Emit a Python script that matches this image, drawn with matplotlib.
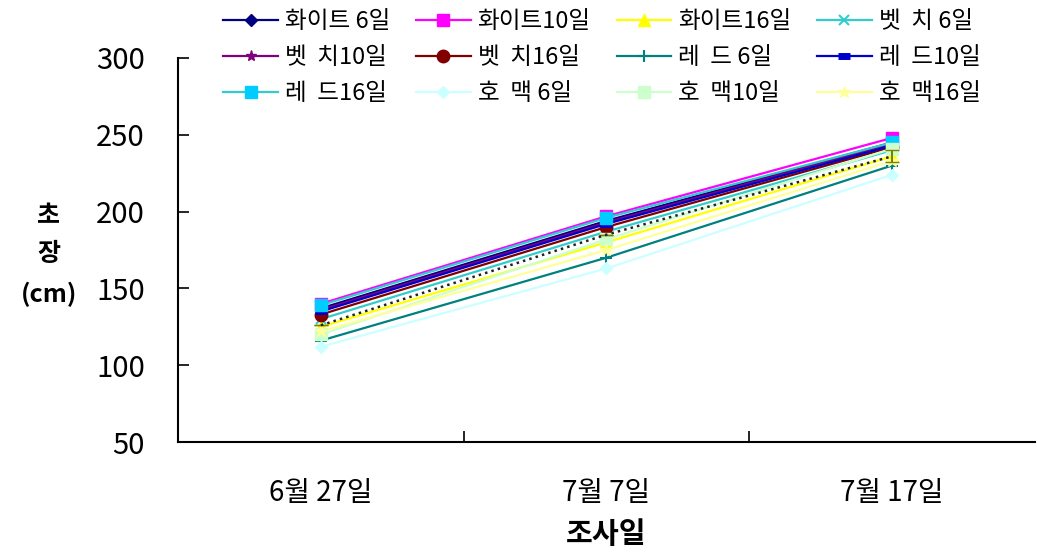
import matplotlib
matplotlib.use("Agg")
import matplotlib.pyplot as plt

plt.rcParams['font.family'] = ['Noto Sans CJK KR', 'DejaVu Sans']

dates = ["6월 27일", "7월 7일", "7월 17일"]
labels = ["화이트 6일", "화이트10일", "화이트16일", "벳  치 6일",
          "벳  치10일", "벳  치16일", "레  드 6일", "레  드10일",
          "레  드16일", "호  맥 6일", "호  맥10일", "호  맥16일"]
white6 = [137, 194, 245]
white10 = [140, 197, 248]
white16 = [125, 180, 236]
vetch6 = [130, 187, 240]
vetch10 = [136, 193, 244]
vetch16 = [133, 190, 242]
red6 = [116, 170, 230]
red10 = [135, 192, 243]
red16 = [139, 196, 245]
rye6 = [112, 163, 224]
rye10 = [120, 182, 241]
rye16 = [122, 175, 233]
series = [white6, white10, white16, vetch6, vetch10, vetch16,
          red6, red10, red16, rye6, rye10, rye16]
avg = [126, 185, 236]
avg_err = [0, 0, 4]

styles = [
    dict(color='#000080', marker='D', ms=6),
    dict(color='#FF00FF', marker='s', ms=8),
    dict(color='#FFFF00', marker='^', ms=8),
    dict(color='#33CCCC', marker='x', ms=7, mew=1.5),
    dict(color='#800080', marker='*', ms=8),
    dict(color='#800000', marker='o', ms=9),
    dict(color='#008080', marker='+', ms=9, mew=1.5),
    dict(color='#0000CC', marker='_', ms=9, mew=5),
    dict(color='#33CCCC', marker='s', ms=8, mfc='#00CCFF', mec='#00CCFF'),
    dict(color='#CCFFFF', marker='D', ms=6),
    dict(color='#CCFFCC', marker='s', ms=8),
    dict(color='#FFFF99', marker='*', ms=9),
]

fig = plt.figure(figsize=(10.37, 5.55), dpi=100)
ax = fig.add_axes([0.1717, 0.2036, 0.8263, 0.6919])
x = list(range(len(dates)))
handles = []
for vals, lab, st in zip(series, labels, styles):
    h, = ax.plot(x, vals, lw=1.6, label=lab, **st)
    handles.append(h)
ax.errorbar(x, avg, yerr=avg_err, color='#222222', ls=':', lw=1.8,
            ecolor='#808000', elinewidth=1.5, capsize=5, zorder=5)

ax.set_xlim(-0.5, 2.5)
ax.set_ylim(50, 300)
ax.set_yticks([50, 100, 150, 200, 250, 300])
ax.set_xticks([0.5, 1.5])
ax.set_xticklabels([])
ax.set_xticks(x, minor=True)
ax.set_xticklabels(dates, minor=True, fontsize=20)
ax.tick_params(axis='x', which='minor', length=0, pad=26)
ax.tick_params(axis='x', which='major', direction='in', length=8, width=1.2)
ax.tick_params(axis='y', direction='in', length=8, width=1.2, labelsize=21, pad=24)
for s in ['top', 'right']:
    ax.spines[s].set_visible(False)
for s in ['left', 'bottom']:
    ax.spines[s].set_linewidth(1.5)
ax.set_xlabel("조사일", fontsize=21, fontweight='bold', labelpad=8)
fig.text(0.047, 0.54, "초\n장\n(cm)", fontsize=18, fontweight='bold',
         ha='center', va='center', linespacing=1.75)

order = [0, 4, 8, 1, 5, 9, 2, 6, 10, 3, 7, 11]
fig.legend([handles[i] for i in order], [labels[i] for i in order],
           ncol=4, loc='upper left', bbox_to_anchor=(0.195, 1.02),
           frameon=False, fontsize=17, handlelength=2.3,
           columnspacing=1.1, labelspacing=0.55, handletextpad=0.3)

fig.savefig("out.png", dpi=100)
